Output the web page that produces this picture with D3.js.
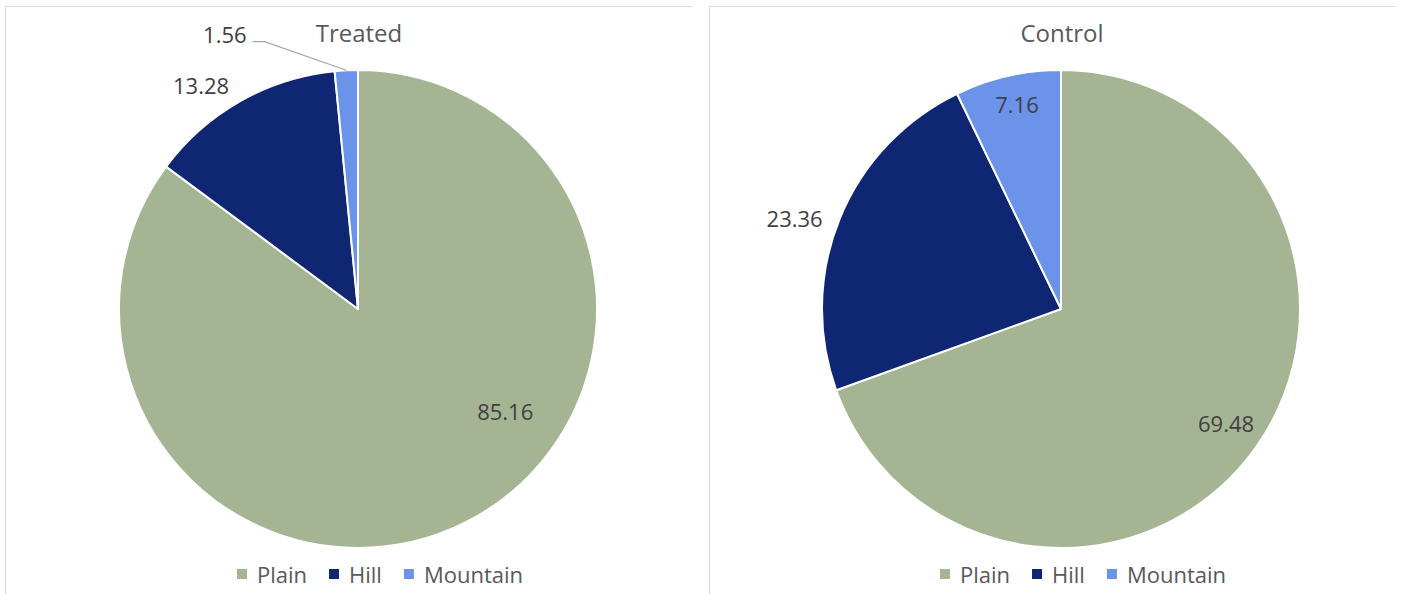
<!DOCTYPE html>
<html>
<head>
<meta charset="utf-8">
<script src="https://cdn.jsdelivr.net/npm/d3@7/dist/d3.min.js"></script>
<style>
  html, body { margin: 0; padding: 0; background: #ffffff; }
  svg { display: block; font-family: "Open Sans", "Noto Sans", sans-serif; }
</style>
</head>
<body>
<svg id="chart" width="1402" height="594"></svg>
<script>
// ---- data ----
const categories = ["Plain", "Hill", "Mountain"];
const treatedValues = [85.16, 13.28, 1.56];
const controlValues = [69.48, 23.36, 7.16];
const panelTitles = ["Treated", "Control"];
const sliceColors = ["#a5b593", "#0f2672", "#6b93ea"];

// ---- layout (label placement: angle in degrees clockwise from 12 o'clock, radius factor) ----
const treatedLabelPlacement = [[124.8, 0.75], [325, 1.145], [334.2, 1.28]];
const controlLabelPlacement = [[124.7, 0.84], [288.9, 1.178], [347.9, 0.878]];

const svg = d3.select("#chart");
const W = 1402, H = 594;

const panels = [
  { x0: 5, x1: 692, cx: 358, cy: 309, values: treatedValues, title: panelTitles[0], place: treatedLabelPlacement, leader: [false, false, true] },
  { x0: 709, x1: 1395, cx: 1061, cy: 309, values: controlValues, title: panelTitles[1], place: controlLabelPlacement, leader: [false, false, false] }
];

const R = 239;
const color = d3.scaleOrdinal().domain(categories).range(sliceColors);
const pie = d3.pie().sort(null).value(d => d.value);
const arc = d3.arc().innerRadius(0).outerRadius(R);

panels.forEach(p => {
  const g = svg.append("g");
  // panel frame (top and left edges visible)
  g.append("line").attr("x1", p.x0).attr("x2", p.x1).attr("y1", 6.5).attr("y2", 6.5)
    .attr("stroke", "#d9d9d9").attr("stroke-width", 1);
  g.append("line").attr("x1", p.x0 + 0.5).attr("x2", p.x0 + 0.5).attr("y1", 6).attr("y2", H)
    .attr("stroke", "#d9d9d9").attr("stroke-width", 1);

  // title
  g.append("text").attr("x", p.cx + 1).attr("y", 32)
    .attr("text-anchor", "middle").attr("dominant-baseline", "central")
    .attr("font-size", 24).attr("fill", "#595959").text(p.title);

  const data = categories.map((c, i) => ({ cat: c, value: p.values[i] }));
  const arcs = pie(data);
  const pg = g.append("g").attr("transform", `translate(${p.cx},${p.cy})`);
  pg.selectAll("path").data(arcs).join("path")
    .attr("d", arc)
    .attr("fill", d => color(d.data.cat))
    .attr("stroke", "#ffffff").attr("stroke-width", 2).attr("stroke-linejoin", "round");

  // labels
  arcs.forEach((a, i) => {
    const [deg, rf] = p.place[i];
    const ang = deg * Math.PI / 180;
    const lx = Math.sin(ang) * R * rf;
    const ly = -Math.cos(ang) * R * rf;
    const t = pg.append("text").attr("x", lx).attr("y", ly)
      .attr("text-anchor", "middle").attr("dominant-baseline", "central")
      .attr("font-size", 22).attr("fill", "#404040")
      .text(a.data.value.toFixed(2));
    if (p.leader[i]) {
      const mid = (a.startAngle + a.endAngle) / 2;
      const ex = Math.sin(mid) * R, ey = -Math.cos(mid) * R;
      const w = t.node().getComputedTextLength();
      const sx = lx + w / 2 + 6, sy = ly + 8;
      pg.append("polyline")
        .attr("points", [[sx, sy], [sx + 12, sy], [ex, ey]].map(q => q.join(",")).join(" "))
        .attr("fill", "none").attr("stroke", "#a6a6a6").attr("stroke-width", 1.2);
    }
  });

  // legend
  const lg = g.append("g");
  const items = lg.selectAll("g").data(categories).join("g");
  items.append("rect").attr("width", 10).attr("height", 10).attr("y", -5)
    .attr("fill", d => color(d));
  items.append("text").attr("x", 20).attr("y", 0).attr("dominant-baseline", "central")
    .attr("font-size", 22).attr("fill", "#595959").text(d => d);
  let off = 0;
  items.each(function () {
    const node = d3.select(this);
    node.attr("transform", `translate(${off},0)`);
    off += 20 + node.select("text").node().getComputedTextLength() + 22;
  });
  const total = off - 22;
  lg.attr("transform", `translate(${p.cx + 22 - total / 2},574)`);
});
</script>
</body>
</html>
